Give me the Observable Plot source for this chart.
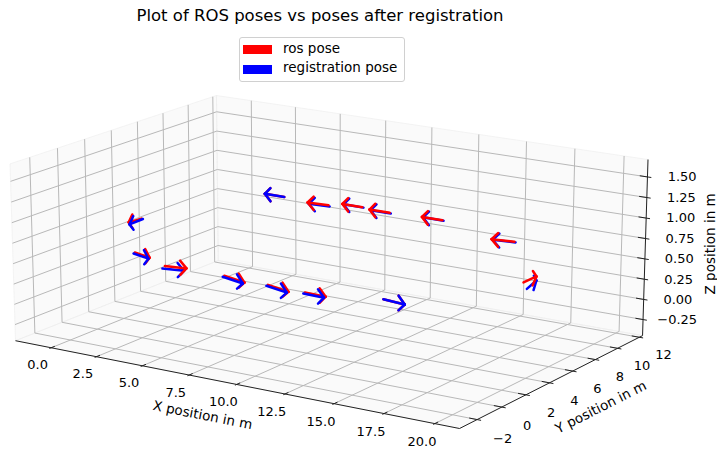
<!DOCTYPE html>
<html><head><meta charset="utf-8">
<script src="https://cdn.jsdelivr.net/npm/d3@7"></script>
<script src="https://cdn.jsdelivr.net/npm/@observablehq/plot@0.6"></script>
<style>
body{margin:0;background:#fff;font-family:"DejaVu Sans",sans-serif;}
#wrap{position:relative;width:717px;height:451px;overflow:hidden;}
#head{position:relative;width:717px;height:88px;}
#title{position:absolute;left:0;width:640px;top:7.5px;text-align:center;font-size:16.5px;line-height:16.5px;color:#000;white-space:nowrap;}
#legend{position:absolute;left:239px;top:37px;width:166px;height:45px;box-sizing:border-box;border:1px solid #d0d0d0;border-radius:3px;background:#fff;}
.sw{position:absolute;left:243px;width:29px;height:9px;}
.lab{position:absolute;left:283px;font-size:13.5px;line-height:13.5px;white-space:nowrap;color:#000;}
#chart svg{display:block;}
</style></head><body>
<div id="wrap">
<div id="head">
<div id="title">Plot of ROS poses vs poses after registration</div>
<div id="legend"></div>
</div>
<div id="chart"></div>
</div>
<script>
// ---------- data ----------
const seriesNames = ["ros pose", "registration pose"];
const seriesColors = ["#ff0000", "#0000ff"];

const xTicks = [0, 2.5, 5, 7.5, 10, 12.5, 15, 17.5, 20];
const yTicks = [-2, 0, 2, 4, 6, 8, 10, 12];
const zTicks = [-0.25, 0, 0.25, 0.5, 0.75, 1.0, 1.25, 1.5];
const xLim = [-2.0, 21.2];
const yLim = [-3.4, 12.3];
const zLim = [-0.45, 1.71];

// ros poses (arrow tip position and heading)
const rosX = [-0.37, 3.87, 5.85, 8.92, 11.21, 13.12, 17.13, 19.89, 15.07, 10.49, 7.65, 6.16, 4.23, 1.77];
const rosY = [3.00, -1.20, -1.20, -1.20, -1.20, -1.20, -1.25, 4.97, 9.25, 10.72, 10.72, 10.72, 10.72, 10.80];
const rosZ = [0.68, 0.67, 0.62, 0.575, 0.56, 0.58, 0.66, 0.70, 0.69, 0.70, 0.685, 0.70, 0.645, 0.66];
const rosU = [0.08, 0.95, 1, 1, 1, 1, 1, 0, -1, -1, -1, -1, -1, -1];
const rosV = [-1, -0.3, 0.08, -0.05, -0.05, -0.05, -0.05, 1, -0.15, 0, 0, 0, -0.1, 0];
const rosW = [0.02, 0, 0.01, -0.03, -0.03, 0, -0.01, 0, 0, 0, 0, 0, 0, 0];

// registration poses
const regX = [-0.25, 3.84, 5.75, 8.87, 11.16, 13.07, 17.13, 19.89, 15.10, 10.50, 7.66, 6.17, 4.24, 1.77];
const regY = [2.90, -1.25, -1.25, -1.25, -1.25, -1.25, -1.25, 4.97, 9.30, 10.80, 10.80, 10.80, 10.80, 10.80];
const regZ = [0.665, 0.66, 0.59, 0.565, 0.55, 0.57, 0.66, 0.652, 0.68, 0.69, 0.672, 0.69, 0.625, 0.66];
const regU = [0.05, 0.95, 1, 1, 1, 1, 1, -0.15, -1, -1, -1, -1, -1, -1];
const regV = [-1, -0.3, 0.08, -0.05, -0.05, -0.05, -0.05, 0.99, -0.15, 0, 0, 0, -0.1, 0];
const regW = [0, 0, 0.01, -0.03, -0.03, 0, -0.01, 0.02, 0, 0, 0, 0, 0, 0];

// ---------- view ----------
const elev = 17.5, azim = -57.05, dist = 10;
const boxAspect = [1, 0.689, 0.4026];
const arrowLength = 1.1, headRatio = 0.3, headAngle = 15;

const rad = Math.PI / 180;
const an = Math.hypot(...boxAspect);
const A = boxAspect.map(a => a * 1.83 / an);
const ce = Math.cos(elev * rad), se = Math.sin(elev * rad);
const ca = Math.cos(azim * rad), sa = Math.sin(azim * rad);
const W = [ce * ca, ce * sa, se];
const EYE = W.map(c => c * dist);
const U = [-sa, ca, 0];
const V = [-se * ca, -se * sa, ce];
const lims = [xLim, yLim, zLim];
const dot = (a, b) => a[0] * b[0] + a[1] * b[1] + a[2] * b[2];
function proj(p) {
  const q = p.map((c, i) => (c - (lims[i][0] + lims[i][1]) / 2) / (lims[i][1] - lims[i][0]) * A[i]);
  const d = [q[0] - EYE[0], q[1] - EYE[1], q[2] - EYE[2]];
  const zc = -dot(d, W);
  return {px: dot(d, U) / zc, py: dot(d, V) / zc, depth: zc};
}
const [x0, x1] = xLim, [y0, y1] = yLim, [z0, z1] = zLim;
const dX = (x1 - x0) / 12, dY = (y1 - y0) / 12, dZ = (z1 - z0) / 12;

const corners = [];
for (const x of xLim) for (const y of yLim) for (const z of zLim) corners.push(proj([x, y, z]));
const xDom = d3.extent(corners, c => c.px);
const yDom = d3.extent(corners, c => c.py);
const HEAD = 88, H = 451 - HEAD;
const xRange = [9.5, 647.5], yRange = [428 - HEAD, 95 - HEAD];
const sx = d3.scaleLinear(xDom, xRange), sy = d3.scaleLinear(yDom, yRange);

function seg(a, b, extra = {}) {
  const p = proj(a), q = proj(b);
  return {x1: p.px, y1: p.py, x2: q.px, y2: q.py, depth: (p.depth + q.depth) / 2, ...extra};
}

// panes
const panes = [];
function pane(name, pts) { for (const p of [...pts, pts[0]]) { const r = proj(p); panes.push({pane: name, px: r.px, py: r.py}); } }
pane("left", [[x0, y0, z0], [x0, y1, z0], [x0, y1, z1], [x0, y0, z1]]);
pane("back", [[x0, y1, z0], [x1, y1, z0], [x1, y1, z1], [x0, y1, z1]]);
pane("floor", [[x0, y0, z0], [x1, y0, z0], [x1, y1, z0], [x0, y1, z0]]);

// grid
const grid = [];
for (const t of xTicks) { grid.push(seg([t, y0, z0], [t, y1, z0])); grid.push(seg([t, y1, z0], [t, y1, z1])); }
for (const t of yTicks) { grid.push(seg([x0, t, z0], [x1, t, z0])); grid.push(seg([x0, t, z0], [x0, t, z1])); }
for (const t of zTicks) { grid.push(seg([x0, y0, t], [x0, y1, t])); grid.push(seg([x0, y1, t], [x1, y1, t])); }

// axis lines and ticks
const axes = [seg([x0, y0, z0], [x1, y0, z0]), seg([x1, y0, z0], [x1, y1, z0]), seg([x1, y1, z0], [x1, y1, z1])];
const ticks = [];
for (const t of xTicks) ticks.push(seg([t, y0 - 0.1 * dY, z0], [t, y0 + 0.2 * dY, z0]));
for (const t of yTicks) ticks.push(seg([x1 + 0.1 * dX, t, z0], [x1 - 0.2 * dX, t, z0]));
for (const t of zTicks) ticks.push(seg([x1 + 0.1 * dX, y1, t], [x1 - 0.2 * dX, y1, t]));

const minus = s => s.replace("-", "\u2212");
const tickLabels = [];
function lab(p, text) { const r = proj(p); tickLabels.push({px: r.px, py: r.py, text}); }
for (const t of xTicks) lab([t, y0 - 1.0, z0 - 0.14], minus(t.toFixed(1)));
for (const t of yTicks) lab([x1 + 1.25, t, z0 - 0.16], minus(String(t)));
for (const t of zTicks) lab([x1 + 1.3, y1 + 0.8, t], minus(t.toFixed(2)));

function pixAngle(a, b) { const p = proj(a), q = proj(b); return Math.atan2(sy(q.py) - sy(p.py), sx(q.px) - sx(p.px)) / rad; }
const axisLabels = [];
function alab(p, text, rotate) { const r = proj(p); axisLabels.push({px: r.px, py: r.py, text, rotate}); }
alab([(x0 + x1) / 2 + 0.3, y0 - 2.4, z0 - 0.2], "X position in m", pixAngle([x0, y0, z0], [x1, y0, z0]));
alab([x1 + 2.3, (y0 + y1) / 2, z0 - 0.22], "Y position in m", pixAngle([x1, y0, z0], [x1, y1, z0]));
alab([x1 + 2.4, y1 + 1.6, (z0 + z1) / 2 + 0.05], "Z position in m", -90);

// arrows (quiver)
function arrows(X, Y, Z, Uu, Vv, Ww, color) {
  const out = [];
  for (let i = 0; i < X.length; i++) {
    const n = Math.hypot(Uu[i], Vv[i], Ww[i]);
    const d = [Uu[i] / n, Vv[i] / n, Ww[i] / n];
    const tip = [X[i], Y[i], Z[i]];
    const tail = tip.map((c, j) => c - arrowLength * d[j]);
    const hn = Math.hypot(d[0], d[1]);
    const k = hn > 0 ? [d[1] / hn, -d[0] / hn, 0] : [0, 1, 0];
    const c = Math.cos(headAngle * rad), s = Math.sin(headAngle * rad);
    const kd = dot(k, d);
    const cr = [k[1] * d[2] - k[2] * d[1], k[2] * d[0] - k[0] * d[2], k[0] * d[1] - k[1] * d[0]];
    const segs = [seg(tail, tip)];
    for (const sg of [1, -1]) {
      const r = d.map((dv, j) => dv * c + cr[j] * s * sg + k[j] * kd * (1 - c));
      segs.push(seg(tip, tip.map((tv, j) => tv - headRatio * arrowLength * r[j])));
    }
    const depth = d3.mean(segs, g => g.depth);
    out.push({depth, segs: segs.map(g => ({...g, color}))});
  }
  return out;
}
const allArrows = [
  ...arrows(rosX, rosY, rosZ, rosU, rosV, rosW, seriesColors[0]),
  ...arrows(regX, regY, regZ, regU, regV, regW, seriesColors[1])
];
allArrows.sort((a, b) => b.depth - a.depth);
const arrowSegs = allArrows.flatMap(a => a.segs);

const plot = Plot.plot({
  width: 717, height: H,
  marginTop: 0, marginRight: 0, marginBottom: 0, marginLeft: 0,
  style: {fontFamily: "DejaVu Sans, sans-serif", background: "#fff", overflow: "visible"},
  x: {domain: xDom, range: xRange, axis: null},
  y: {domain: yDom, range: yRange, axis: null},
  color: {type: "identity"},
  marks: [
    Plot.line(panes, {x: "px", y: "py", z: "pane", fill: "rgba(242,242,242,0.35)", stroke: "rgba(236,236,236,0.6)", strokeWidth: 1}),
    Plot.link(grid, {x1: "x1", y1: "y1", x2: "x2", y2: "y2", stroke: "#b8b8b8", strokeWidth: 1}),
    Plot.link(axes, {x1: "x1", y1: "y1", x2: "x2", y2: "y2", stroke: "#222", strokeWidth: 1}),
    Plot.link(ticks, {x1: "x1", y1: "y1", x2: "x2", y2: "y2", stroke: "#222", strokeWidth: 1}),
    Plot.text(tickLabels, {x: "px", y: "py", text: "text", fontSize: 13, fill: "#000", textAnchor: "middle", lineAnchor: "middle"}),
    Plot.text(axisLabels, {x: "px", y: "py", text: "text", rotate: "rotate", fontSize: 13.5, fill: "#000", textAnchor: "middle", lineAnchor: "middle"}),
    Plot.link(arrowSegs, {x1: "x1", y1: "y1", x2: "x2", y2: "y2", stroke: "color", strokeWidth: 2.5, strokeLinecap: "round"})
  ]
});
document.getElementById("chart").appendChild(plot);

// legend
const head = document.getElementById("head");
const swTops = [45, 64.5], labTops = [42.1, 61.1];
seriesNames.forEach((name, i) => {
  const sw = document.createElement("div");
  sw.className = "sw"; sw.style.top = swTops[i] + "px"; sw.style.background = seriesColors[i];
  head.appendChild(sw);
  const lb = document.createElement("div");
  lb.className = "lab"; lb.style.top = labTops[i] + "px"; lb.textContent = name;
  head.appendChild(lb);
});
</script>
</body></html>
